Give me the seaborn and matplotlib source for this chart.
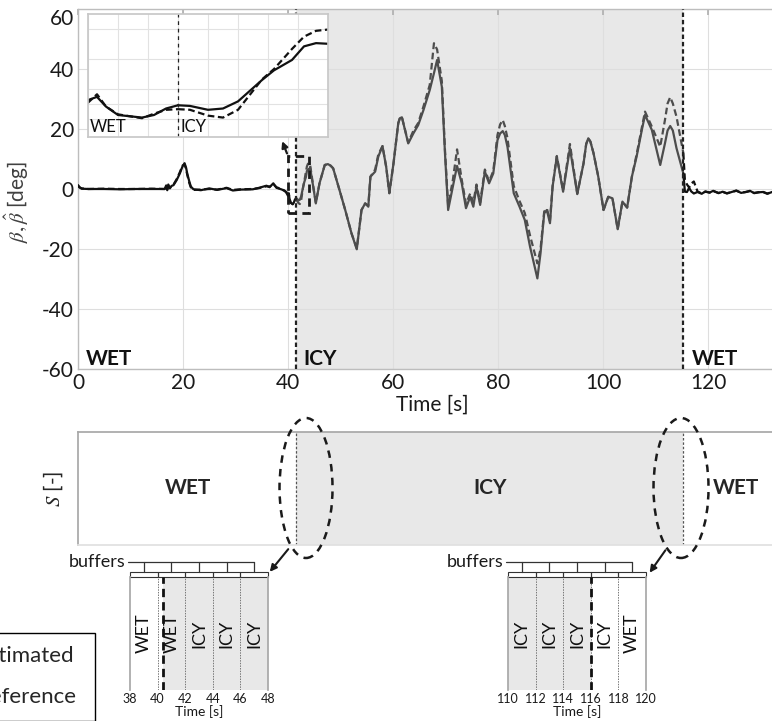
import numpy as np
import pandas as pd
import matplotlib
matplotlib.use("Agg")
import matplotlib.pyplot as plt
import seaborn as sns
from matplotlib.patches import Rectangle, Ellipse
from matplotlib.lines import Line2D

# sideslip angle: time [s], estimated and reference beta [deg]
time = [0.0, 0.3, 0.7, 2.0, 5.0, 8.0, 11.0, 14.0, 16.5, 16.8,
        17.0, 17.2, 17.5, 17.8, 18.2, 18.8, 19.4, 19.9, 20.3, 20.6,
        20.8, 21.2, 21.5, 22.0, 23.4, 25.0, 26.5, 28.3, 29.5, 31.0,
        33.3, 34.5, 35.9, 36.5, 37.2, 37.8, 38.7, 39.3, 39.7,
        40.0, 40.15, 40.3, 40.5, 40.9, 41.1, 41.3, 41.5, 41.7,
        42.0, 42.25, 42.5, 42.9, 43.1, 43.4, 43.6, 43.8, 44.0,
        44.2, 44.8, 45.3, 46.0, 47.0, 47.6, 48.1, 48.6, 49.9, 50.9,
        52.1, 53.1, 54.0, 54.7, 55.3, 55.7, 56.6, 57.2, 58.0, 58.7,
        59.3, 60.1, 61.0, 61.3, 61.7, 62.9, 63.9, 64.8, 65.8, 67.0,
        67.8, 68.4, 69.3, 69.9, 70.5, 71.4, 72.2, 73.1, 73.9, 74.7,
        75.3, 75.9, 76.6, 77.5, 78.3, 79.1, 79.9, 80.4, 80.9, 81.3,
        81.8, 83.0, 84.1, 85.1, 86.1, 87.5, 88.1, 88.8, 89.3, 89.9,
        90.4, 91.2, 92.4, 93.7, 95.1, 96.3, 96.8, 97.2, 97.6, 98.2,
        99.1, 100.1, 101.0, 101.8, 102.8, 103.7, 104.6, 105.5, 106.4, 107.4,
        108.0, 109.3, 110.9, 111.8, 112.3, 112.8, 113.3, 114.0, 115.3, 115.6,
        116.0, 116.4, 116.8, 117.3, 118.0, 118.8, 119.5, 120.3, 121.0, 122.0,
        122.8, 123.6, 124.5, 125.4, 126.3, 127.2, 128.0, 128.8, 129.6, 130.5,
        131.3, 132.2, 135.0]
beta_est = [1.3, 0.6, 0.1, 0.0, 0.0, -0.1, 0.0, 0.0, 0.0, 1.2,
            -0.4, 1.5, 0.2, 1.0, 1.3, 3.0, 5.2, 7.5, 8.6, 7.0,
            5.2, 2.5, 0.8, -0.1, -0.4, 0.2, -0.3, 0.3, -0.5, -0.2,
            -0.1, 0.4, 1.1, 0.6, 1.9, 0.4, -0.1, -0.5, -1.2,
            -2.3, -1.8, -3.3, -4.6, -5.0, -4.6, -3.6, -3.1, -3.2,
            -3.8, -3.6, -2.5, 0.8, 2.3, 3.9, 6.0, 6.5, 6.4,
            7.2, 0.8, -4.8, 1.9, 8.0, 8.3, 7.8, 6.9, -0.9, -7.0,
            -14.8, -20.1, -7.0, -4.8, -5.9, 4.1, 5.8, 10.8, 14.3, 7.4,
            -1.4, 8.6, 21.9, 23.6, 23.9, 15.2, 18.6, 21.3, 26.3, 33.0,
            38.6, 43.0, 34.1, 11.9, -7.0, 0.8, 7.7, 1.9, -6.4, -2.6,
            -5.9, 0.8, -5.3, 5.8, 1.9, 5.2, 16.3, 18.5, 19.3, 18.0,
            14.1, -1.4, -5.9, -10.3, -19.2, -29.8, -21.4, -8.1, -7.0, -11.4,
            0.8, 10.8, -0.9, 13.6, -1.7, 8.6, 15.0, 16.9, 15.8, 11.9,
            4.1, -7.0, -2.6, -3.1, -13.4, -4.2, -6.2, 4.1, 10.8, 19.7,
            24.7, 19.7, 8.0, 15.2, 19.5, 21.0, 19.5, 13.6, 5.2, -0.9,
            -1.0, 0.4, -0.8, -1.5, -1.0, -1.6, -0.8, -1.2, -0.6, -1.4,
            -0.9, -1.5, -1.0, -0.5, -1.3, -1.0, -0.6, -1.4, -1.1, -1.0,
            -1.6, -1.0, -1.1]
beta_ref = [1.0, 0.5, 0.2, 0.0, 0.1, 0.0, 0.0, 0.1, 0.0, 0.8,
            0.2, 1.0, 0.5, 0.8, 1.5, 3.3, 5.6, 7.8, 8.2, 6.6,
            4.8, 2.0, 0.5, -0.3, -0.2, 0.0, -0.2, 0.4, -0.3, -0.1,
            0.0, 0.3, 0.9, 0.8, 1.6, 0.6, 0.0, -0.6, -1.0,
            -2.7, -1.4, -3.3, -4.5, -5.1, -4.4, -3.8, -3.7, -3.8,
            -4.7, -5.0, -3.8, 0.9, 2.5, 5.6, 7.5, 8.4, 8.6,
            8.2, 1.0, -4.6, 1.9, 8.0, 8.3, 7.8, 6.9, -0.9, -7.0,
            -14.8, -19.8, -7.0, -4.8, -5.5, 4.1, 6.5, 11.5, 14.3, 7.4,
            -1.4, 8.6, 21.9, 23.6, 23.9, 15.5, 19.5, 22.0, 27.5, 34.7,
            48.6, 46.5, 36.0, 13.0, -5.5, 3.0, 13.2, 3.0, -5.0, -1.5,
            -4.5, 1.5, -4.5, 6.5, 2.5, 6.0, 18.0, 21.5, 23.0, 21.0,
            17.0, 1.0, -4.0, -8.0, -15.5, -24.8, -20.0, -7.5, -6.5, -10.5,
            1.0, 11.0, -0.5, 15.0, -1.5, 8.6, 15.0, 16.9, 15.8, 11.9,
            4.1, -7.0, -2.6, -3.1, -13.4, -4.2, -6.2, 4.1, 11.5, 20.5,
            25.8, 20.8, 14.1, 23.0, 28.5, 30.6, 28.5, 24.1, 12.0, 3.0,
            1.5, 0.5, 1.8, 2.5, -0.8, -1.5, -0.9, -1.2, -0.7, -1.3,
            -1.0, -1.4, -1.0, -0.6, -1.2, -1.0, -0.7, -1.3, -1.1, -1.0,
            -1.5, -1.0, -1.1]

# road surface: switch times and labels
switch_times = [41.5, 115.3]
surfaces = ["WET", "ICY", "WET"]

# buffer zooms around the two switches
buf_left_ticks = [38, 40, 42, 44, 46, 48]
buf_left_labels = ["WET", "WET", "ICY", "ICY", "ICY"]
buf_left_switch = 40.4
buf_right_ticks = [110, 112, 114, 116, 118, 120]
buf_right_labels = ["ICY", "ICY", "ICY", "ICY", "WET"]
buf_right_switch = 116.0

sns.set_theme(style="white")
plt.rcParams["font.family"] = ["Lato", "DejaVu Sans"]
plt.rcParams["mathtext.fontset"] = "stix"
plt.rcParams["axes.unicode_minus"] = False

ICE = "#e8e8e8"
GRIDC = "#dedede"
SPINE = "#bdbdbd"

# split the series by surface so the icy part can be drawn grey
t = np.array(time)
edges = [t[0]] + switch_times + [t[-1]]
parts = []
for k in range(len(surfaces)):
    a, b = edges[k], edges[k + 1]
    tt = np.concatenate([[a], t[(t > a) & (t < b)], [b]])
    for name, vals in (("Estimated", beta_est), ("Reference", beta_ref)):
        parts.append(pd.DataFrame({"t": tt, "beta": np.interp(tt, t, vals),
                                   "series": name, "seg": f"{surfaces[k]}{k}"}))
df = pd.concat(parts, ignore_index=True)
seg_colors = {"WET0": "#111111", "ICY1": "#4d4d4d", "WET2": "#111111"}
dash_map = {"Estimated": "", "Reference": (3, 1.6)}

fig = plt.figure(figsize=(7.72, 7.21), dpi=100)

# ---------------- main beta plot
ax = fig.add_axes([78 / 772, 1 - 369 / 721, 135 * 5.25 / 772, 360 / 721])
ax.axvspan(switch_times[0], switch_times[1], color=ICE, lw=0, zorder=0.2)
ax.grid(True, color=GRIDC, lw=0.8, zorder=0.5)
ax.set_axisbelow(True)
sns.lineplot(data=df, x="t", y="beta", hue="seg", style="series",
             palette=seg_colors, dashes=dash_map, estimator=None,
             lw=1.6, legend=False, ax=ax, zorder=3)
for line in ax.get_lines():
    line.set_solid_joinstyle("round")
for s in switch_times:
    ax.axvline(s, color="#222222", lw=1.6, ls=(0, (2, 1.3)), zorder=4)
ax.set_xlim(0, 135)
ax.set_ylim(-60, 60)
ax.set_xticks(range(0, 121, 20))
ax.set_yticks(range(-60, 61, 20))
ax.tick_params(direction="in", length=4, color="#b0b0b0", top=True, right=True,
               labelsize=15, pad=3, labelcolor="#1a1a1a")
ax.yaxis.get_major_ticks()[-1].label1.set_verticalalignment("top")
for sp in ax.spines.values():
    sp.set_color(SPINE)
    sp.set_linewidth(1.0)
ax.set_xlabel("Time [s]", fontsize=15, labelpad=1, color="#1a1a1a")
ax.set_ylabel(r"$\beta, \hat{\beta}$ [deg]", fontsize=15, color="#404040")
ax.yaxis.set_label_coords(-0.066, 0.465)

txt_x = [1.5, switch_times[0] + 1.4, switch_times[1] + 1.6]
for x, lab in zip(txt_x, surfaces):
    ax.text(x, -58.6, lab, fontsize=15, fontweight="bold", ha="left", va="baseline",
            color="#111111", zorder=6)

# zoom box + arrow to the inset
ax.add_patch(Rectangle((40, -8), 4, 19, fill=False, ec="k", lw=2,
                       ls=(0, (3, 2)), zorder=5))
ax.annotate("", xy=(38.7, 16.8), xytext=(40.0, 11.0),
            arrowprops=dict(arrowstyle="-|>", color="k", lw=1.6,
                            mutation_scale=9), zorder=6)

# ---------------- inset
axi = fig.add_axes([88 / 772, 1 - 137 / 721, 240 / 772, 123 / 721])
axi.set_facecolor("white")
inset_df = df[(df.t >= 39.5) & (df.t <= 44.5)]
sns.lineplot(data=inset_df, x="t", y="beta", style="series", units="seg",
             color="#111111", dashes=dash_map, estimator=None, lw=1.6,
             legend=False, ax=axi)
axi.axvline(switch_times[0], color="#222222", lw=0.9, ls=(0, (3, 3)))
axi.set_xlim(40, 44)
axi.set_ylim(-8, 11)
axi.set_xticks(np.arange(40, 44.01, 0.5))
axi.set_yticks([-5.2, -2.9, -0.6, 4.0, 8.7])
axi.grid(True, color="#e2e2e2", lw=0.8)
axi.tick_params(length=0, labelbottom=False, labelleft=False)
axi.set_xlabel("")
axi.set_ylabel("")
for sp in axi.spines.values():
    sp.set_color("#c8c8c8")
axi.text(40.03, -7.7, surfaces[0], fontsize=12, ha="left", va="bottom", color="#111111")
axi.text(switch_times[0] + 0.05, -7.7, surfaces[1], fontsize=12, ha="left",
         va="bottom", color="#111111")

# ---------------- surface state S
axs = fig.add_axes([78 / 772, 1 - 545 / 721, 135 * 5.25 / 772, 113 / 721])
axs.axvspan(switch_times[0], switch_times[1], color=ICE, lw=0)
for s in switch_times:
    axs.axvline(s, color="#555555", lw=0.9, ls=(0, (2, 1.5)))
axs.set_xlim(0, 135)
axs.set_ylim(0, 1)
axs.set_xticks([])
axs.set_yticks([])
axs.spines["top"].set_color("#a8a8a8")
axs.spines["left"].set_color("#a8a8a8")
axs.spines["bottom"].set_color("#e0e0e0")
axs.spines["right"].set_color("#a8a8a8")
axs.set_ylabel(r"$S$ [-]", fontsize=15, color="#262626")
axs.yaxis.set_label_coords(-0.018, 0.5)
axs.text(20.9, 0.5, surfaces[0], fontsize=15, fontweight="bold", ha="center", va="center")
axs.text(78.5, 0.5, surfaces[1], fontsize=15, fontweight="bold", ha="center", va="center")
axs.text(121.0, 0.5, surfaces[2], fontsize=15, fontweight="bold", ha="left", va="center")

# dashed ellipses around the switches
for cx, w in ((306, 53), (681, 55)):
    fig.add_artist(Ellipse((cx / 772, 1 - 488 / 721), w / 772, 140 / 721,
                           transform=fig.transFigure, fill=False, ec="k",
                           lw=1.8, ls=(0, (3, 2.5))))


def draw_buffers(axb, ticks, labels, switch):
    t0, t1 = ticks[0], ticks[-1]
    if labels[0] == "WET":
        axb.axvspan(switch, t1, color=ICE, lw=0)
    else:
        axb.axvspan(t0, switch, color=ICE, lw=0)
    for x in ticks[1:-1]:
        axb.axvline(x, color="#777777", lw=0.7, ls=(0, (1.5, 1.2)))
    axb.axvline(switch, color="#111111", lw=2.0, ls=(0, (3, 1.8)))
    centers = [(a + b) / 2 for a, b in zip(ticks[:-1], ticks[1:])]
    for c, lab in zip(centers, labels):
        axb.text(c, 0.5, lab, rotation=90, fontsize=13, ha="center", va="center",
                 color="#111111")
    axb.set_xlim(t0, t1)
    axb.set_ylim(0, 1)
    axb.set_xticks(ticks)
    axb.set_yticks([])
    axb.tick_params(length=0, labelsize=9, pad=2, labelcolor="#1a1a1a")
    axb.set_xlabel("Time [s]", fontsize=10, labelpad=0, color="#1a1a1a")
    for side in ("top", "bottom"):
        axb.spines[side].set_visible(False)
    for side in ("left", "right"):
        axb.spines[side].set_color("#a8a8a8")
    tr = axb.get_xaxis_transform()
    for a, b in zip(ticks[:-1], ticks[1:]):
        axb.add_patch(Rectangle((a, 1.0), b - a, 0.04, transform=tr, fill=False,
                                ec="#333333", lw=0.8, clip_on=False))
    axb.plot([t0 - 0.15, centers[-1]], [1.133, 1.133], transform=tr,
             color="#333333", lw=0.9, clip_on=False)
    for c in centers:
        axb.plot([c, c], [1.04, 1.133], transform=tr, color="#333333", lw=0.9,
                 clip_on=False)
    axb.text(t0 - 0.35, 1.133, "buffers", transform=tr, fontsize=13, ha="right",
             va="center", color="#1a1a1a")


axl = fig.add_axes([130 / 772, 1 - 690 / 721, 138 / 772, 113 / 721])
draw_buffers(axl, buf_left_ticks, buf_left_labels, buf_left_switch)
axr = fig.add_axes([508 / 772, 1 - 690 / 721, 138 / 772, 113 / 721])
draw_buffers(axr, buf_right_ticks, buf_right_labels, buf_right_switch)

# arrows from the ellipses to the buffers
for start, end in (((290, 547), (268, 574)), ((667, 548), (648, 575))):
    axs.annotate("", xy=(end[0] / 772, 1 - end[1] / 721), xycoords="figure fraction",
                 xytext=(start[0] / 772, 1 - start[1] / 721),
                 textcoords="figure fraction", annotation_clip=False,
                 arrowprops=dict(arrowstyle="-|>", color="k", lw=1.5,
                                 mutation_scale=10))

# legend, partly cut by the left figure edge as in the source figure
handles = [Line2D([], [], color="#4d4d4d", lw=1.6),
           Line2D([], [], color="#111111", lw=1.6, ls=(0, (3, 1.6)))]
leg = fig.legend(handles, ["Estimated ", "Reference "], loc="upper right",
                 bbox_to_anchor=(95 / 772, 1 - 633 / 721),
                 bbox_transform=fig.transFigure, fontsize=16, frameon=True,
                 fancybox=False, edgecolor="black", framealpha=1,
                 borderaxespad=0, borderpad=0.6, labelspacing=0.95,
                 handlelength=2.5)
leg.get_frame().set_linewidth(1.0)

fig.savefig("out.png", dpi=100)
